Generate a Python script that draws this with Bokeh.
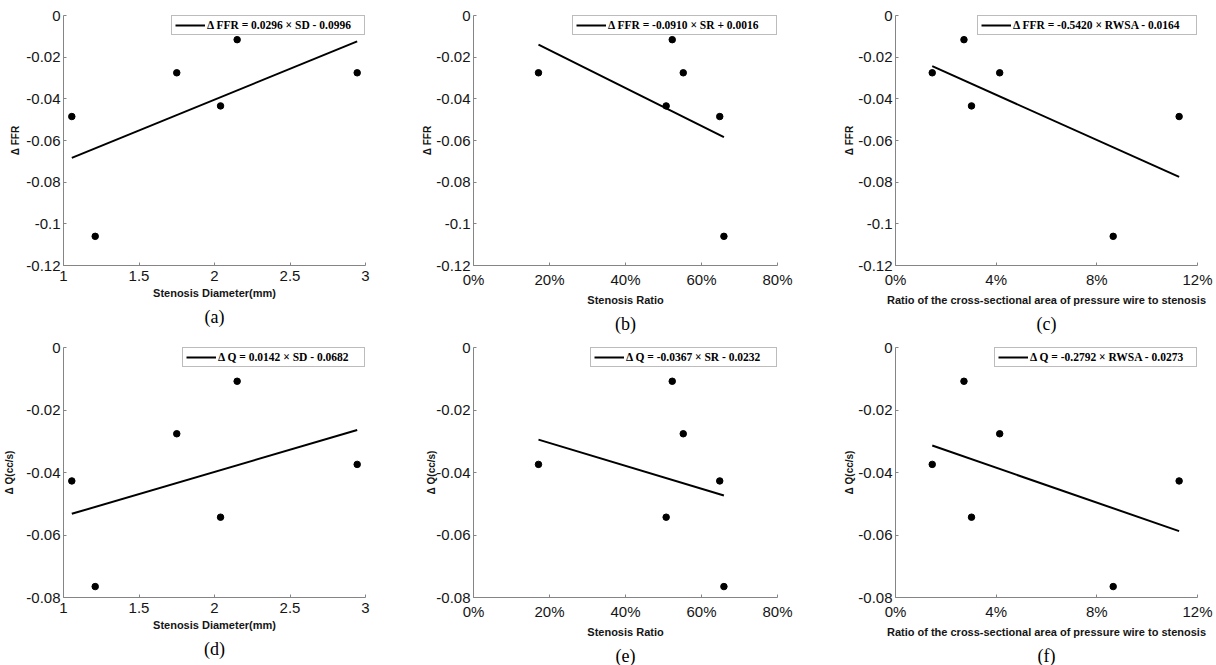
from bokeh.plotting import figure
from bokeh.layouts import column, row
from bokeh.models import Range1d, FixedTicker, Legend, LegendItem, Title
from bokeh.embed import file_html
from bokeh.resources import INLINE

# ---- data (one entry per case) ----
stenosis_diameter = [1.055, 1.21, 1.75, 2.04, 2.15, 2.945]
stenosis_ratio = [0.648, 0.659, 0.552, 0.507, 0.523, 0.171]
rwsa = [0.1127, 0.0865, 0.0414, 0.0302, 0.0272, 0.0146]
delta_ffr = [-0.0485, -0.106, -0.0275, -0.0434, -0.0116, -0.0275]
delta_q = [-0.0427, -0.0765, -0.0276, -0.0543, -0.0108, -0.0374]

# regression coefficients (from legends)
ffr_slope = [0.0296, -0.0910, -0.5420]
ffr_intercept = [-0.0996, 0.0016, -0.0164]
q_slope = [0.0142, -0.0367, -0.2792]
q_intercept = [-0.0682, -0.0232, -0.0273]

ffr_legend = ["\u0394 FFR = 0.0296 \u00d7 SD - 0.0996",
              "\u0394 FFR = -0.0910 \u00d7 SR + 0.0016",
              "\u0394 FFR = -0.5420 \u00d7 RWSA - 0.0164"]
q_legend = ["\u0394 Q = 0.0142 \u00d7 SD - 0.0682",
            "\u0394 Q = -0.0367 \u00d7 SR - 0.0232",
            "\u0394 Q = -0.2792 \u00d7 RWSA - 0.0273"]

x_labels = ["Stenosis Diameter(mm)", "Stenosis Ratio",
            "Ratio of the cross-sectional area of pressure wire to stenosis"]
y_labels = ["\u0394 FFR", "\u0394 Q(cc/s)"]
captions = [["(a)", "(b)", "(c)"], ["(d)", "(e)", "(f)"]]

x_ticks = [[1, 1.5, 2, 2.5, 3], [0, 0.2, 0.4, 0.6, 0.8], [0, 0.04, 0.08, 0.12]]
x_tick_labels = [["1", "1.5", "2", "2.5", "3"],
                 ["0%", "20%", "40%", "60%", "80%"],
                 ["0%", "4%", "8%", "12%"]]
ffr_ticks = [-0.12, -0.1, -0.08, -0.06, -0.04, -0.02, 0]
ffr_tick_labels = ["-0.12", "-0.1", "-0.08", "-0.06", "-0.04", "-0.02", "0"]
q_ticks = [-0.08, -0.06, -0.04, -0.02, 0]
q_tick_labels = ["-0.08", "-0.06", "-0.04", "-0.02", "0"]

# ---- layout (pixels) ----
xs_all = [stenosis_diameter, stenosis_ratio, rwsa]
x_ranges = [(1, 3), (0, 0.8), (0, 0.12)]
col_left = [63, 63, 75]
col_frame = [302, 304, 302]
col_right = [45, 43, 19]
row_top = [15, 10]
row_bottom = [70, 70]
ylab_standoff = [[2, 0, 0], [8, -4, 0]]
legend_box_w = [[192, 203, 218], [181, 185, 201]]

AXIS_COLOR = "#858585"
TEXT_COLOR = "#151515"
LEG_PAD = 3
LEG_GLYPH = 30
LEG_STANDOFF = 2


def make_panel(r, c):
    ys = delta_ffr if r == 0 else delta_q
    slope = (ffr_slope if r == 0 else q_slope)[c]
    inter = (ffr_intercept if r == 0 else q_intercept)[c]
    leg = (ffr_legend if r == 0 else q_legend)[c]
    yt = ffr_ticks if r == 0 else q_ticks
    ytl = ffr_tick_labels if r == 0 else q_tick_labels
    xs = xs_all[c]

    p = figure(frame_width=col_frame[c], frame_height=250,
               min_border_left=col_left[c], min_border_right=col_right[c],
               min_border_top=row_top[r], min_border_bottom=row_bottom[r],
               x_range=Range1d(*x_ranges[c]), y_range=Range1d(yt[0], yt[-1]),
               output_backend="svg", toolbar_location=None, tools="")
    p.outline_line_color = None
    p.grid.visible = False
    p.background_fill_color = "white"
    p.border_fill_color = "white"

    for ax in (p.xaxis[0], p.yaxis[0]):
        ax.axis_line_color = AXIS_COLOR
        ax.axis_line_width = 1
        ax.major_tick_line_color = AXIS_COLOR
        ax.major_tick_in = 3
        ax.major_tick_out = 0
        ax.minor_tick_line_color = None
        ax.major_label_text_font = "Liberation Sans"
        ax.major_label_text_font_size = "15px"
        ax.major_label_text_color = TEXT_COLOR
        ax.axis_label_text_font = "Liberation Sans"
        ax.axis_label_text_font_style = "bold"
        ax.axis_label_text_color = TEXT_COLOR

    p.xaxis.ticker = FixedTicker(ticks=x_ticks[c])
    p.xaxis.major_label_overrides = dict(zip(x_ticks[c], x_tick_labels[c]))
    p.xaxis.major_label_standoff = 5
    p.xaxis.axis_label = x_labels[c]
    p.xaxis.axis_label_text_font_size = "11px"
    p.xaxis.axis_label_standoff = 3

    p.yaxis.ticker = FixedTicker(ticks=yt)
    p.yaxis.major_label_overrides = dict(zip(yt, ytl))
    p.yaxis.major_label_standoff = 3
    p.yaxis.axis_label = y_labels[r]
    p.yaxis.axis_label_text_font_size = "10px"
    p.yaxis.axis_label_standoff = ylab_standoff[r][c]

    x0, x1 = min(xs), max(xs)
    fit = p.line([x0, x1], [slope * x0 + inter, slope * x1 + inter],
                 line_color="black", line_width=2)
    p.scatter(xs, ys, size=6.5, marker="circle", fill_color="black",
              line_color="black")

    lw = legend_box_w[r][c] - 2 * LEG_PAD - LEG_GLYPH - LEG_STANDOFF
    legend = Legend(items=[LegendItem(label=leg, renderers=[fit])],
                    location="top_right", margin=0, padding=LEG_PAD, spacing=0,
                    glyph_width=LEG_GLYPH, glyph_height=10, label_height=10,
                    label_width=lw, label_standoff=LEG_STANDOFF,
                    label_text_font="Liberation Serif",
                    label_text_font_style="bold",
                    label_text_font_size="11.5px",
                    label_text_color="black",
                    border_line_color="#7a7a7a", border_line_width=1,
                    background_fill_color="white", background_fill_alpha=1)
    p.add_layout(legend, "center")

    p.add_layout(Title(text=captions[r][c], align="center",
                       text_font="Liberation Serif", text_font_size="18px",
                       text_font_style="normal", text_color="black",
                       standoff=7), "below")
    return p


rows = []
for r in range(2):
    rows.append(row(*[make_panel(r, c) for c in range(3)]))
layout = column(*rows)

open("out.html", "w").write(file_html(layout, INLINE))
